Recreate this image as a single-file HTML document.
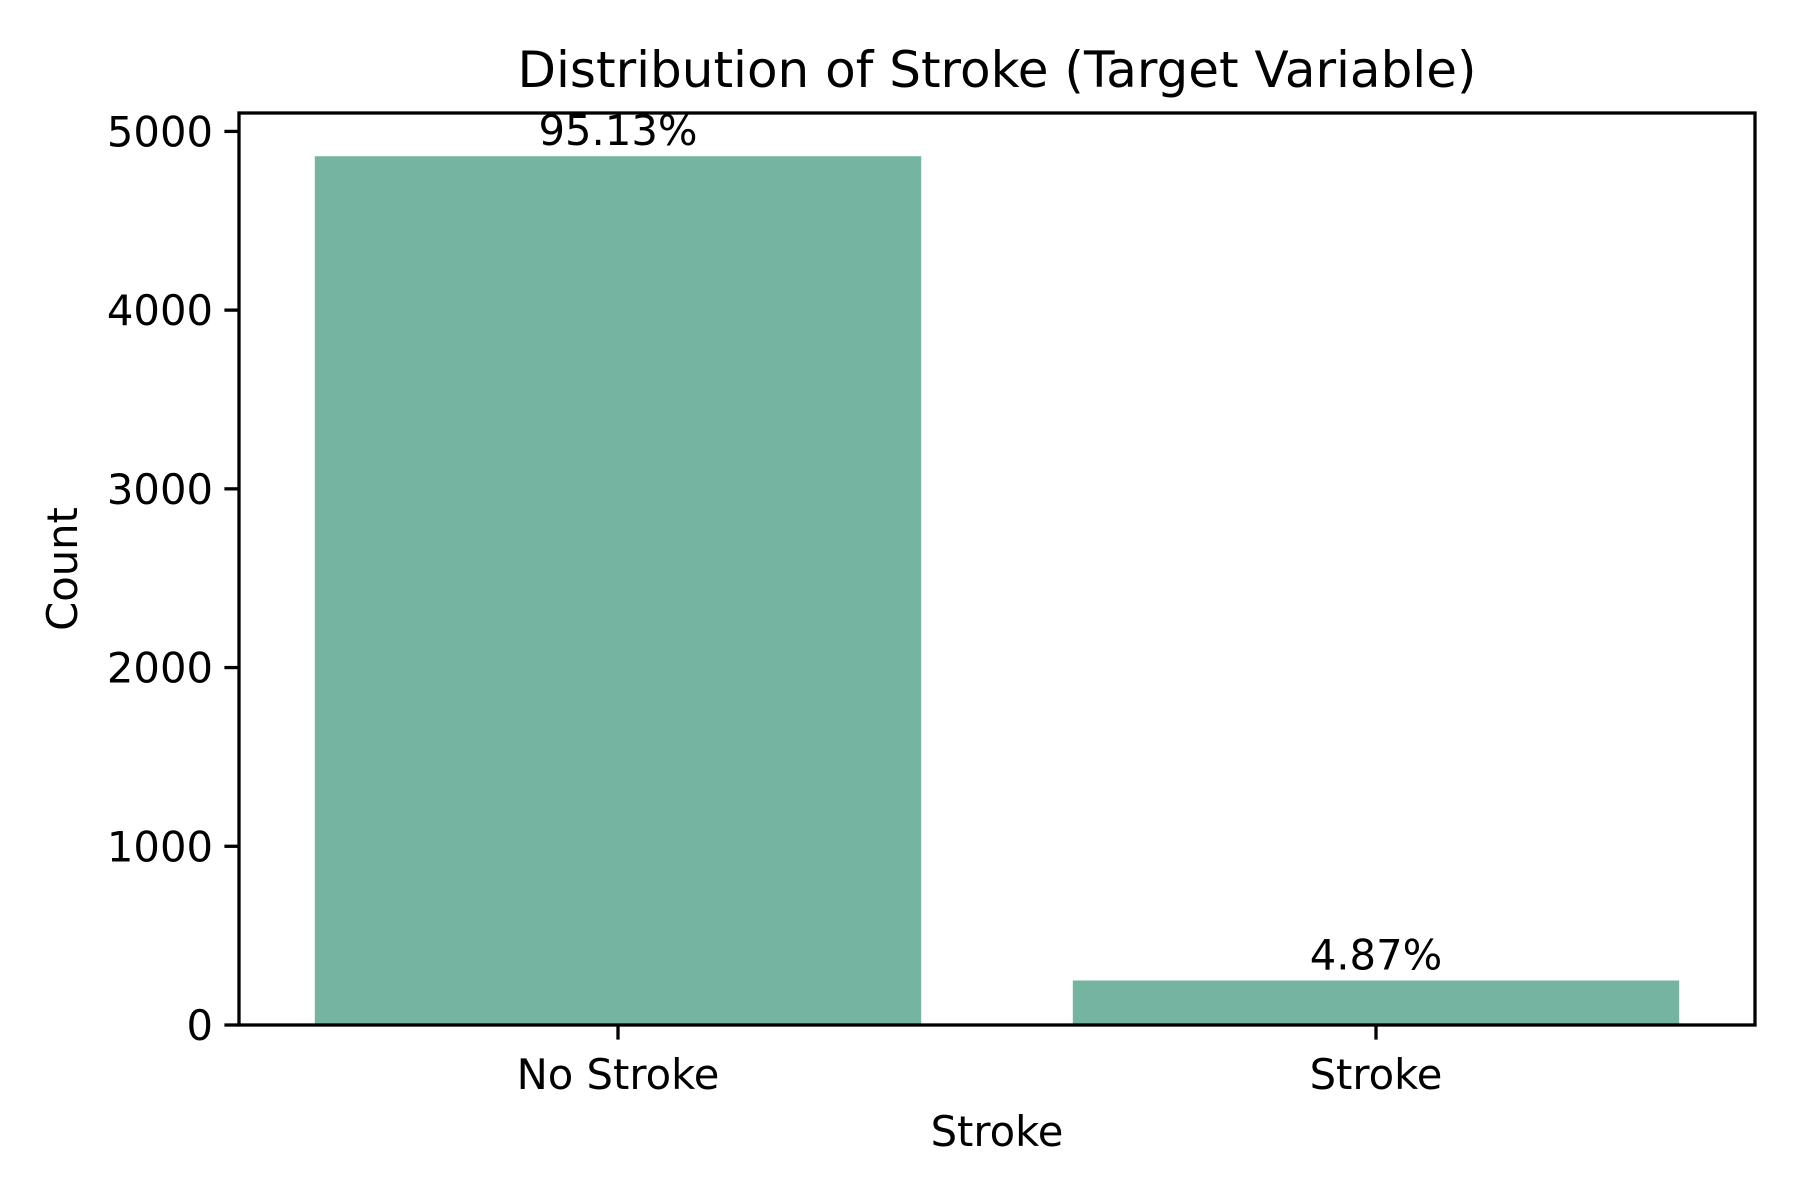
<!DOCTYPE html>
<html><head><meta charset="utf-8"><style>
html,body{margin:0;padding:0;background:#fff;}
svg{display:block;font-family:"DejaVu Sans","Liberation Sans",sans-serif;}
</style></head><body>
<svg id="chart" width="1800" height="1200" viewBox="0 0 1800 1200" xmlns="http://www.w3.org/2000/svg">
<rect width="1800" height="1200" fill="#fff"/>
<text x="997" y="87" font-size="50" text-anchor="middle">Distribution of Stroke (Target Variable)</text>
<g id="bars"></g>
<g id="yticks"></g>
<g id="xticks"></g>
<rect x="239" y="113" width="1516" height="912" fill="none" stroke="#000" stroke-width="3.3"/>
<text x="0" y="0" font-size="41.7" text-anchor="middle" transform="translate(77,569) rotate(-90)">Count</text>
<text x="997" y="1146" font-size="41.7" text-anchor="middle">Stroke</text>
</svg>
<script>
const categories = ["No Stroke", "Stroke"];
const counts = [4861, 249];
const percentLabels = ["95.13%", "4.87%"];
const yTicks = [0, 1000, 2000, 3000, 4000, 5000];

const NS = "http://www.w3.org/2000/svg";
const plotL = 239, plotR = 1755, plotB = 1025;
const yMax = 5103;
const plotT = 113;
function yScale(v){ return plotB - (v / yMax) * (plotB - plotT); }
function xScale(i){ return plotL + (i + 0.5) / categories.length * (plotR - plotL); }
const bw = 0.8 * (plotR - plotL) / categories.length;

const bars = document.getElementById('bars');
const yt = document.getElementById('yticks');
const xt = document.getElementById('xticks');

counts.forEach((c, i) => {
  const r = document.createElementNS(NS, 'rect');
  
  
  r.setAttribute('x', xScale(i) - bw / 2);
  r.setAttribute('y', yScale(c));
  r.setAttribute('width', bw);
  r.setAttribute('height', plotB - yScale(c));
  r.setAttribute('fill', '#74b4a0');
  bars.appendChild(r);
  const t = document.createElementNS(NS, 'text');
  
  
  t.setAttribute('x', xScale(i));
  t.setAttribute('y', yScale(c) - 11);
  t.setAttribute('font-size', '41.7');
  t.setAttribute('text-anchor', 'middle');
  t.textContent = percentLabels[i];
  bars.appendChild(t);
  const tk = document.createElementNS(NS, 'line');
  
  
  tk.setAttribute('x1', xScale(i)); tk.setAttribute('x2', xScale(i));
  tk.setAttribute('y1', plotB); tk.setAttribute('y2', plotB + 14.6);
  tk.setAttribute('stroke', '#000'); tk.setAttribute('stroke-width', '3.3');
  xt.appendChild(tk);
  const xl = document.createElementNS(NS, 'text');
  
  
  xl.setAttribute('x', xScale(i));
  xl.setAttribute('y', plotB + 64);
  xl.setAttribute('font-size', '41.7');
  xl.setAttribute('text-anchor', 'middle');
  xl.textContent = categories[i];
  xt.appendChild(xl);
});

yTicks.forEach(v => {
  const y = yScale(v);
  const tk = document.createElementNS(NS, 'line');
  
  
  tk.setAttribute('x1', plotL - 14.6); tk.setAttribute('x2', plotL);
  tk.setAttribute('y1', y); tk.setAttribute('y2', y);
  tk.setAttribute('stroke', '#000'); tk.setAttribute('stroke-width', '3.3');
  yt.appendChild(tk);
  const l = document.createElementNS(NS, 'text');
  
  
  l.setAttribute('x', plotL - 26);
  l.setAttribute('y', y + 15);
  l.setAttribute('font-size', '41.7');
  l.setAttribute('text-anchor', 'end');
  l.textContent = v;
  yt.appendChild(l);
});
</script>
</body></html>
